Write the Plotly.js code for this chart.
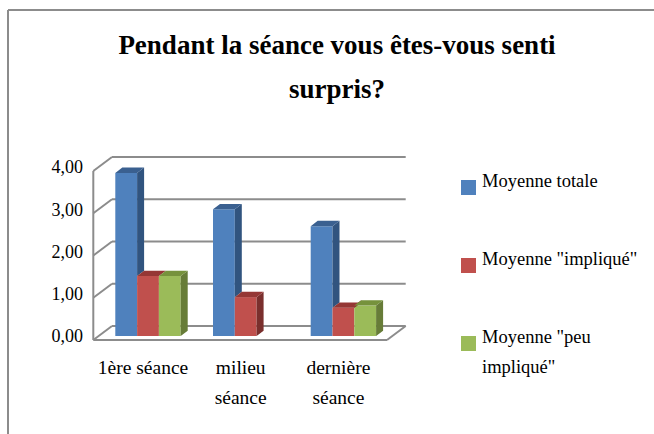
<!DOCTYPE html>
<html><head><meta charset="utf-8">
<script src="https://cdn.plot.ly/plotly-3.0.1.min.js"></script>
<style>html,body{margin:0;padding:0;background:#fff}</style></head>
<body><div id="chart" style="width:654px;height:434px"></div>
<script>
const categories = ['1ère séance', 'milieu|séance', 'dernière|séance'];
const seriesNames = ['Moyenne totale', 'Moyenne "impliqué"', 'Moyenne "peu|impliqué"'];
const moyenneTotale = [3.86, 3.00, 2.60];
const moyenneImplique = [1.42, 0.92, 0.67];
const moyennePeuImplique = [1.42, null, 0.72];
const yTicks = [0, 1, 2, 3, 4];
const frontColors = ['#4f81bd', '#c0504d', '#9bbb59'];
const sideColors = ['#31547f', '#7a2f2d', '#677c38'];
const topColors = ['#3a6090', '#953735', '#76923c'];

const W = 654, H = 434;
const plot = {l: 90, r: 410, t: 154, b: 343};
const pxPerCat = 97.7, pxPerUnit = 42.25, x0px = 148, y0px = 336;
const series = [moyenneTotale, moyenneImplique, moyennePeuImplique];
const slot = 21.8 / pxPerCat;
const depthBar = {x: 7 / pxPerCat, y: 5.3 / pxPerUnit};
const px2x = p => (p - x0px) / pxPerCat;
const px2y = p => (y0px - p) / pxPerUnit;
const paperX = p => (p - plot.l) / (plot.r - plot.l);
const paperY = p => (plot.b - p) / (plot.b - plot.t);
const xs = categories.map((_, i) => i);
const textSize = 18.5, xLabelSize = 19.5, yLabelSize = 18, titleSize = 27;
const spaced = (t, size) => t.split('|').map(s => `<span style="font-size:${size}px">${s}</span>`).join('<br>');

const traces = [];
series.forEach((vals, s) => {
  traces.push({type: 'bar', x: xs, y: vals, name: seriesNames[s].replace('|', ' '),
    marker: {color: frontColors[s]}, showlegend: false, hoverinfo: 'y+name'});
});
series.forEach((vals, s) => {
  const sx = [], sy = [], tx = [], ty = [];
  vals.forEach((v, g) => {
    if (v === null) return;
    const left = g + (s - 1.5) * slot, right = left + slot;
    const next = s < 2 && series[s + 1][g] !== null ? series[s + 1][g] : 0;
    sx.push(right, right, right + depthBar.x, right + depthBar.x, right, null);
    sy.push(next, v, v + depthBar.y, next + depthBar.y, next, null);
    tx.push(left, right, right + depthBar.x, left + depthBar.x, left, null);
    ty.push(v, v, v + depthBar.y, v + depthBar.y, v, null);
  });
  [[sx, sy, sideColors[s]], [tx, ty, topColors[s]]].forEach(([x, y, c]) => {
    traces.push({type: 'scatter', mode: 'none', x, y, fill: 'toself', fillcolor: c,
      showlegend: false, hoverinfo: 'skip'});
  });
});

const grid = '#8c8c8c';
const wall = {front: 93.3, back: 112, right: 405.7, frontRight: 387, frontBase: 340, backBase: 326};
const gl = (x1, y1, x2, y2) => ({type: 'line', xref: 'x', yref: 'y', layer: 'below',
  x0: px2x(x1), y0: px2y(y1), x1: px2x(x2), y1: px2y(y2), line: {color: grid, width: 2}});
const shapes = [];
yTicks.forEach(t => {
  const back = wall.backBase - t * pxPerUnit, front = wall.frontBase - t * pxPerUnit;
  shapes.push(gl(wall.back, back, wall.right, back));
  shapes.push(gl(wall.front, front, wall.back, back));
});
shapes.push(gl(wall.front, wall.frontBase - 4 * pxPerUnit, wall.front, wall.frontBase));
shapes.push(gl(wall.front, wall.frontBase, wall.frontRight, wall.frontBase));
shapes.push(gl(wall.frontRight, wall.frontBase, wall.right, wall.backBase));
const frame = (a, b, c, d) => ({type: 'line', xref: 'paper', yref: 'paper',
  x0: paperX(a), y0: paperY(b), x1: paperX(c), y1: paperY(d), line: {color: '#8c8c8c', width: 2}});
shapes.push(frame(8, 10, W, 10), frame(8, 10, 8, H));

const legendTop = [180, 258, 336];
const annotations = [];
const labelFont = {family: 'Liberation Serif', color: '#000', size: 23};
seriesNames.forEach((n, i) => {
  shapes.push({type: 'rect', xref: 'paper', yref: 'paper', line: {width: 0}, fillcolor: frontColors[i],
    x0: paperX(461), x1: paperX(476), y0: paperY(legendTop[i]), y1: paperY(legendTop[i] + 15)});
  annotations.push({xref: 'paper', yref: 'paper', x: paperX(481), y: paperY(legendTop[i] - 10),
    xanchor: 'left', yanchor: 'top', align: 'left', showarrow: false, borderpad: 0,
    text: spaced(n, textSize), font: labelFont});
});

const layout = {
  width: W, height: H, autosize: false, showlegend: false,
  paper_bgcolor: '#fff', plot_bgcolor: 'rgba(0,0,0,0)',
  margin: {l: plot.l, r: W - plot.r, t: plot.t, b: H - plot.b, pad: 0},
  separators: ',.',
  barmode: 'group', bargap: 1 - 3 * slot, bargroupgap: 0,
  title: {text: `<span style="font-size:${titleSize}px"><b>Pendant la séance vous êtes-vous senti</b></span><br><span style="font-size:${titleSize}px"><b>surpris?</b></span>`,
    font: {family: 'Liberation Serif', size: 34, color: '#000'},
    xref: 'container', yref: 'container', x: 337 / W, xanchor: 'center', y: 1 - 54 / H, yanchor: 'top'},
  xaxis: {type: 'linear', range: [px2x(plot.l), px2x(plot.r)], tickmode: 'array', tickvals: xs,
    ticktext: categories.map(c => spaced(c, xLabelSize)), tickangle: 0, ticks: '', showgrid: false, zeroline: false,
    showline: false, ticklabelshift: -5, ticklabelstandoff: 7,
    tickfont: labelFont},
  yaxis: {range: [px2y(plot.b), px2y(plot.t)], tickmode: 'array', tickvals: yTicks, tickformat: '.2f',
    ticks: '', showgrid: false, zeroline: false, showline: false, ticklabelstandoff: 6,
    tickfont: {family: 'Liberation Serif', size: yLabelSize, color: '#000'}},
  shapes, annotations
};
Plotly.newPlot('chart', traces, layout, {displayModeBar: false});
</script></body></html>
